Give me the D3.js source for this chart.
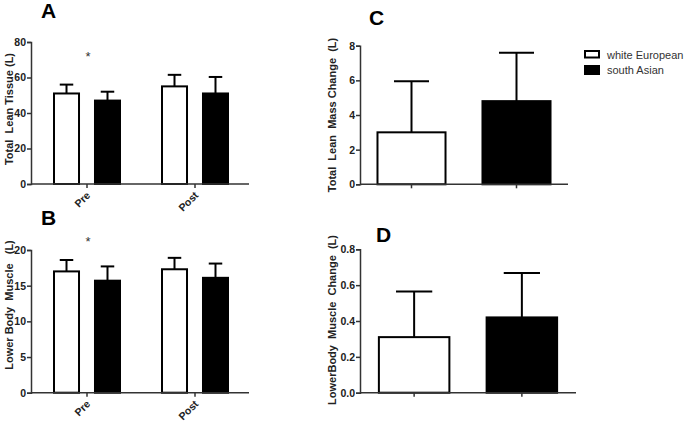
<!DOCTYPE html>
<html><head><meta charset="utf-8">
<script src="https://cdn.jsdelivr.net/npm/d3@7"></script>
<style>
body{margin:0;background:#fff;}
text{font-family:"Liberation Sans",Arial,sans-serif;}
</style></head><body>
<svg id="chart" width="685" height="425"></svg>
<script>
// ---- data ----
const timepoints = ["Pre","Post"];
const groups = ["white European","south Asian"];
const groupFill = ["#ffffff","#000000"];
// Panel A: Total Lean Tissue (L)
const leanMean = [[51,47],[55,51]];      // [timepoint][group]
const leanErr  = [[56,52],[61.5,60.3]];  // upper error bar end
// Panel B: Lower Body Muscle (L)
const lowerMean = [[17.0,15.7],[17.3,16.1]];
const lowerErr  = [[18.6,17.7],[18.9,18.1]];
// Panel C: Total Lean Mass Change (L)
const leanChangeMean = [3.0,4.8];
const leanChangeErr  = [5.95,7.6];
// Panel D: Lower Body Muscle Change (L)
const muscleChangeMean = [0.31,0.42];
const muscleChangeErr  = [0.565,0.668];
const ticksA = [0,20,40,60,80];
const ticksB = [0,5,10,15,20];
const ticksC = [0,2,4,6,8];
const ticksD = [0,0.2,0.4,0.6,0.8];

const svg = d3.select("#chart");
const AX = "#333";

function yAxis(g, y, x0, ticks, fmt){
  const ax = g.append("g").attr("transform",`translate(${x0},0)`)
    .call(d3.axisLeft(y).tickValues(ticks).tickFormat(fmt).tickSize(4).tickPadding(1));
  ax.select(".domain").attr("stroke",AX).attr("stroke-width",1.5);
  ax.selectAll(".tick line").attr("stroke",AX).attr("stroke-width",1.5);
  ax.selectAll(".tick text").attr("font-size",10.5).attr("font-weight","bold").attr("fill","#222")
    .attr("font-family","Liberation Sans, Arial, sans-serif");
}
function xLine(g, x0, x1, yy, tickXs){
  g.append("line").attr("x1",x0).attr("x2",x1).attr("y1",yy).attr("y2",yy)
    .attr("stroke",AX).attr("stroke-width",1.5);
  tickXs.forEach(t=>g.append("line").attr("x1",t).attr("x2",t).attr("y1",yy).attr("y2",yy+4)
    .attr("stroke",AX).attr("stroke-width",1.5));
}
function bar(g, xl, w, y, v, e){
  g.append("line").attr("x1",xl+w/2).attr("x2",xl+w/2).attr("y1",y(v)).attr("y2",y(e))
    .attr("stroke","#000").attr("stroke-width",2);
  g.append("line").attr("x1",xl+w/4).attr("x2",xl+3*w/4).attr("y1",y(e)).attr("y2",y(e))
    .attr("stroke","#000").attr("stroke-width",2);
}
function drawBar(g, xl, w, y, v, fill){
  g.append("rect").attr("x",xl+1).attr("y",y(v)).attr("width",w-2).attr("height",y(0)-y(v))
    .attr("fill",fill).attr("stroke","#000").attr("stroke-width",2);
}
function yTitle(x, yc, txt){
  svg.append("text").attr("transform",`translate(${x},${yc}) rotate(-90)`)
    .attr("text-anchor","middle").attr("font-size",11).attr("font-weight","bold").attr("fill","#222")
    .style("white-space","pre").text(txt);
}
function letter(x, y, t){
  svg.append("text").attr("x",x).attr("y",y).attr("font-size",21).attr("font-weight","bold").attr("fill","#000").text(t);
}

// ---- grouped panels A and B ----
function grouped(top, bottom, domainMax, ticks, means, errs, title, titleY, starY, letterY, lab){
  const g = svg.append("g");
  const y = d3.scaleLinear().domain([0,domainMax]).range([bottom,top]);
  const xp = d3.scalePoint().domain(timepoints).range([33,249]).padding(0.5);
  const xi = d3.scaleBand().domain(groups).range([-34,34]).paddingInner(0.341).paddingOuter(0);
  timepoints.forEach((t,ti)=>{
    groups.forEach((gr,gi)=>{
      const xl = xp(t)+xi(gr);
      bar(g, xl, xi.bandwidth(), y, means[ti][gi], errs[ti][gi]);
      drawBar(g, xl, xi.bandwidth(), y, means[ti][gi], groupFill[gi]);
    });
  });
  xLine(g, 31, 249, bottom, timepoints.map(t=>xp(t)));
  yAxis(g, y, 31, ticks, d3.format("d"));
  timepoints.forEach(t=>{
    svg.append("text").attr("transform",`translate(${xp(t)+4},${bottom+12}) rotate(-45)`)
      .attr("text-anchor","end").attr("font-size",10.5).attr("font-weight","bold").attr("fill","#222").text(t);
  });
  svg.append("text").attr("x",xp("Pre")+1).attr("y",starY).attr("text-anchor","middle")
    .attr("font-size",13).attr("fill","#333").text("*");
  yTitle(13, titleY, title);
  letter(41, letterY, lab);
}
grouped(42, 184, 80, ticksA, leanMean, leanErr, "Total  Lean Tissue (L)", 109, 61, 18, "A");
grouped(250, 392.7, 20, ticksB, lowerMean, lowerErr, "Lower Body  Muscle   (L)", 305, 246, 225, "B");

// ---- change panels C and D ----
function change(top, bottom, x1, domainMax, ticks, means, errs, pi, po, fmt, title, titleY, lx, ly, lab){
  const g = svg.append("g");
  const y = d3.scaleLinear().domain([0,domainMax]).range([bottom,top]);
  const x = d3.scaleBand().domain(groups).range([360,x1]).paddingInner(pi).paddingOuter(po);
  groups.forEach((gr,gi)=>{
    bar(g, x(gr), x.bandwidth(), y, means[gi], errs[gi]);
    drawBar(g, x(gr), x.bandwidth(), y, means[gi], groupFill[gi]);
  });
  xLine(g, 360, x1, bottom, groups.map(gr=>x(gr)+x.bandwidth()/2));
  yAxis(g, y, 360, ticks, fmt);
  yTitle(336, titleY, title);
  letter(lx, ly, lab);
}
change(45.7, 184.3, 568, 8, ticksC, leanChangeMean, leanChangeErr, 0.333, 0.157, d3.format("d"),
  "Total  Lean  Mass Change  (L)", 115, 369, 25, "C");
change(249.3, 392.7, 576, 0.8, ticksD, muscleChangeMean, muscleChangeErr, 0.327, 0.166, d3.format(".1f"),
  "LowerBody  Muscle  Change  (L)", 320, 376, 242, "D");

// ---- legend ----
const leg = svg.append("g");
groups.forEach((gr,i)=>{
  leg.append("rect").attr("x",585).attr("y",51+i*15).attr("width",14).attr("height",i?8:6.5)
    .attr("fill",groupFill[i]).attr("stroke","#000").attr("stroke-width",2);
  leg.append("text").attr("x",607).attr("y",59+i*15).attr("font-size",11).attr("fill","#333").text(gr);
});
</script>
</body></html>
